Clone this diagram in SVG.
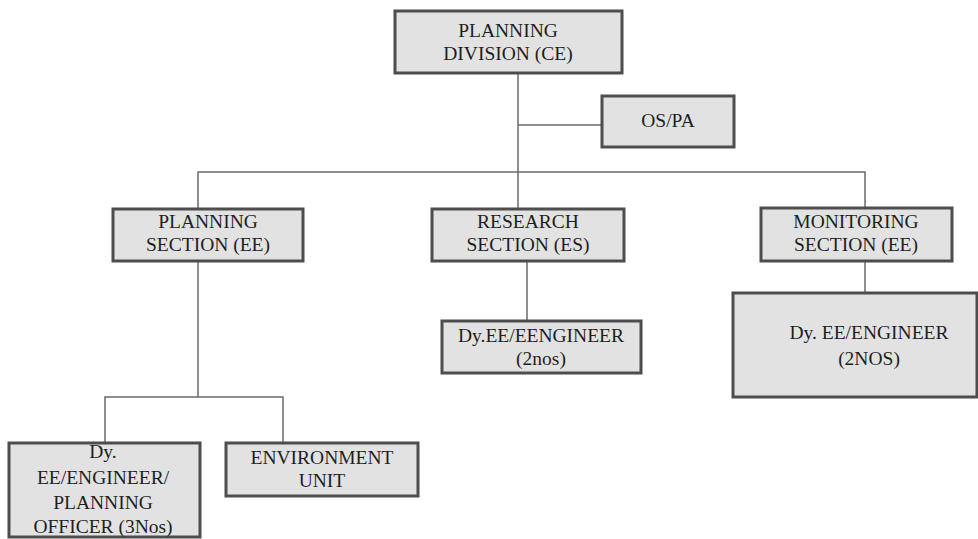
<svg xmlns="http://www.w3.org/2000/svg" width="978" height="539" viewBox="0 0 978 539">
  <style>
    .box { fill: #e2e2e2; stroke: #4d4d4d; stroke-width: 3; }
    .lbl { font-family: "Liberation Serif", "DejaVu Serif", serif; font-size: 19.5px; fill: #1e1e1e; text-anchor: middle; }
    .wire { fill: none; stroke: #6a6a6a; stroke-width: 1.5; }
  </style>
  <rect width="978" height="539" fill="#ffffff"/>

  <!-- connectors -->
  <g id="connectors">
    <path class="wire" d="M518 73 V209"/>
    <path class="wire" d="M518 125 H602"/>
    <path class="wire" d="M198 209 V172 H865 V208"/>
    <path class="wire" d="M527 261 V321"/>
    <path class="wire" d="M865 261 V293"/>
    <path class="wire" d="M198 261 V397"/>
    <path class="wire" d="M105 443 V397 H283 V443"/>
  </g>

  <g id="planning-division">
    <rect class="box" x="395" y="11" width="227" height="62"/>
    <text class="lbl" x="508" y="37">PLANNING</text>
    <text class="lbl" x="508" y="60">DIVISION (CE)</text>
  </g>

  <g id="os-pa">
    <rect class="box" x="602" y="96" width="132" height="51"/>
    <text class="lbl" x="668" y="127">OS/PA</text>
  </g>

  <g id="planning-section">
    <rect class="box" x="113" y="209" width="190" height="52"/>
    <text class="lbl" x="208" y="228">PLANNING</text>
    <text class="lbl" x="208" y="251">SECTION (EE)</text>
  </g>

  <g id="research-section">
    <rect class="box" x="432" y="209" width="192" height="52"/>
    <text class="lbl" x="528" y="228">RESEARCH</text>
    <text class="lbl" x="528" y="251">SECTION (ES)</text>
  </g>

  <g id="monitoring-section">
    <rect class="box" x="761" y="208" width="191" height="53"/>
    <text class="lbl" x="856" y="228">MONITORING</text>
    <text class="lbl" x="856" y="251">SECTION (EE)</text>
  </g>

  <g id="research-engineers">
    <rect class="box" x="442" y="321" width="199" height="52"/>
    <text class="lbl" x="541" y="342">Dy.EE/EENGINEER</text>
    <text class="lbl" x="541" y="365">(2nos)</text>
  </g>

  <g id="monitoring-engineers">
    <rect class="box" x="733" y="293" width="244" height="104"/>
    <text class="lbl" x="869" y="339">Dy. EE/ENGINEER</text>
    <text class="lbl" x="869" y="365">(2NOS)</text>
  </g>

  <g id="planning-officers">
    <rect class="box" x="9" y="443" width="191" height="94"/>
    <text class="lbl" x="103" y="458">Dy.</text>
    <text class="lbl" x="103" y="484">EE/ENGINEER/</text>
    <text class="lbl" x="103" y="509">PLANNING</text>
    <text class="lbl" x="103" y="533">OFFICER (3Nos)</text>
  </g>

  <g id="environment-unit">
    <rect class="box" x="226" y="443" width="192" height="53"/>
    <text class="lbl" x="322" y="464">ENVIRONMENT</text>
    <text class="lbl" x="322" y="487">UNIT</text>
  </g>
</svg>
